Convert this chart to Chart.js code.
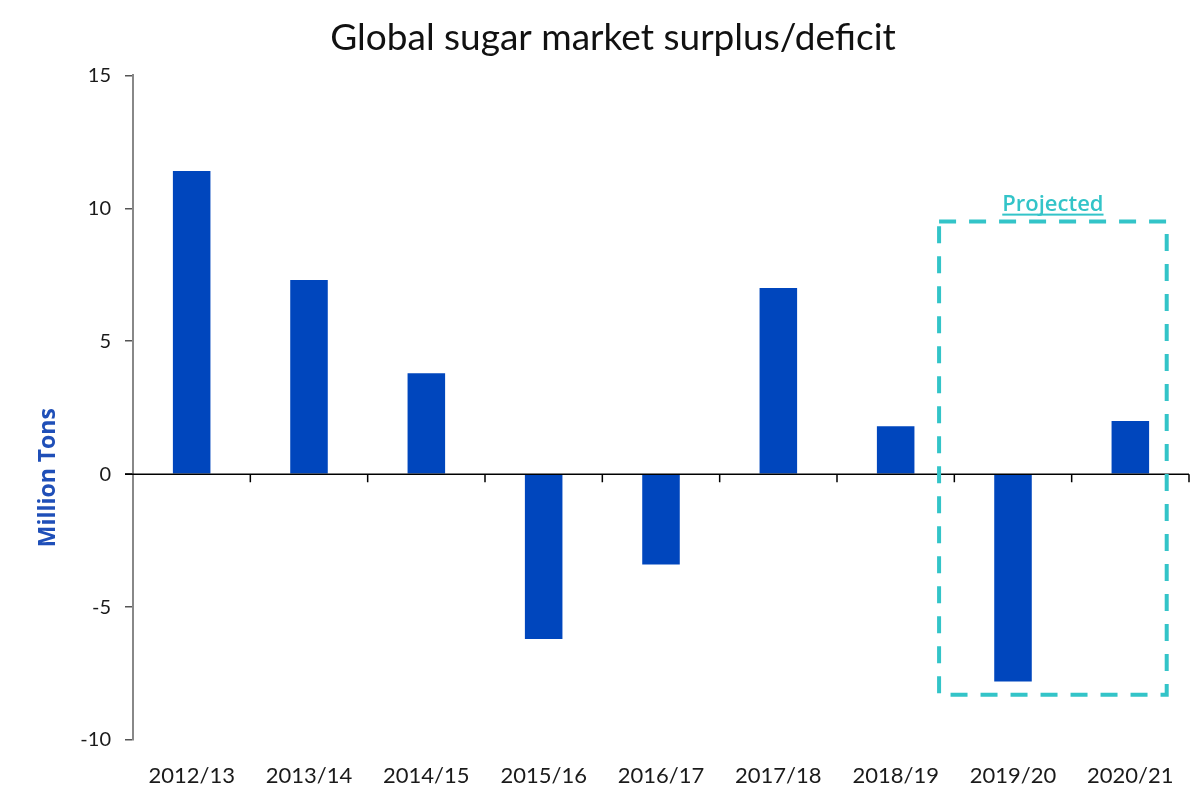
<!DOCTYPE html>
<html>
<head>
<meta charset="utf-8">
<script src="https://cdn.jsdelivr.net/npm/chart.js@4"></script>
<style>
  html, body { margin: 0; padding: 0; background: #fff; }
  #wrap { width: 1200px; height: 812px; }
</style>
</head>
<body>
<div id="wrap"><canvas id="sugarChart"></canvas></div>
<script>
// Global sugar surplus/deficit, million tons
const seasons = ["2012/13", "2013/14", "2014/15", "2015/16", "2016/17", "2017/18", "2018/19", "2019/20", "2020/21"];
const balance = [11.4, 7.3, 3.8, -6.2, -3.4, 7.0, 1.8, -7.8, 2.0];
const yTicks = [-10, -5, 0, 5, 10, 15];
const projectedFrom = "2019/20";

const barBlue = "#0046bd";
const teal = "#33c4c8";

// zero line with tick marks between categories, y title, and the dashed "Projected" box
const extras = {
  id: "extras",
  afterDatasetsDraw(chart) {
    const { ctx, chartArea, scales: { x, y } } = chart;
    const y0 = y.getPixelForValue(0);
    const half = (x.getPixelForValue(1) - x.getPixelForValue(0)) / 2;

    ctx.save();
    ctx.strokeStyle = "#000";
    ctx.lineWidth = 1.5;
    ctx.beginPath();
    ctx.moveTo(chartArea.left - 8, y0);
    ctx.lineTo(chartArea.right, y0);
    for (let i = 0; i < seasons.length; i++) {
      const bx = x.getPixelForValue(i) + half;
      ctx.moveTo(bx, y0);
      ctx.lineTo(bx, y0 + 8);
    }
    ctx.stroke();

    // y axis title, sits a bit below the middle like the original
    ctx.save();
    ctx.translate(48, (chartArea.top + chartArea.bottom) / 2 + 70);
    ctx.rotate(-Math.PI / 2);
    ctx.font = "bold 23px 'Open Sans'";
    ctx.fillStyle = "#1f4fb8";
    ctx.textAlign = "center";
    ctx.textBaseline = "middle";
    ctx.fillText("Million Tons", 0, 0);
    ctx.restore();

    // projected box
    const i0 = seasons.indexOf(projectedFrom);
    const left = x.getPixelForValue(i0) - half * 1.26;
    const right = x.getPixelForValue(seasons.length - 1) + half * 0.62;
    const top = y.getPixelForValue(9.5);
    const bottom = y.getPixelForValue(-8.3);
    ctx.strokeStyle = teal;
    ctx.lineWidth = 4;
    ctx.setLineDash([17, 13]);
    ctx.strokeRect(left, top, right - left, bottom - top);
    ctx.setLineDash([]);

    ctx.font = "600 22px 'Open Sans'";
    ctx.fillStyle = teal;
    ctx.textAlign = "center";
    ctx.textBaseline = "alphabetic";
    const cx = (left + right) / 2;
    const ty = top - 11;
    ctx.fillText("Projected", cx, ty);
    const w = ctx.measureText("Projected").width;
    ctx.fillRect(cx - w / 2, ty + 3, w, 2);
    ctx.restore();
  }
};

new Chart(document.getElementById("sugarChart"), {
  type: "bar",
  data: {
    labels: seasons,
    datasets: [{
      label: "Surplus/deficit",
      data: balance,
      backgroundColor: barBlue,
      barPercentage: 0.64,
      categoryPercentage: 0.5
    }]
  },
  options: {
    responsive: true,
    maintainAspectRatio: false,
    animation: false,
    layout: { padding: { left: 37, right: 11, top: 0, bottom: 0 } },
    plugins: {
      legend: { display: false },
      tooltip: { enabled: false },
      title: {
        display: true,
        text: "Global sugar market surplus/deficit",
        color: "#111",
        font: { family: "Lato", size: 37, weight: "normal" },
        padding: { top: 16, bottom: 15 }
      }
    },
    scales: {
      x: {
        grid: { display: false, drawTicks: false },
        border: { display: false },
        ticks: {
          color: "#1a1a1a",
          font: { family: "Lato", size: 22 },
          padding: 23,
          maxRotation: 0
        },
        afterFit(s) { s.height = 72; }
      },
      y: {
        min: -10,
        max: 15,
        afterBuildTicks(s) { s.ticks = yTicks.map(v => ({ value: v })); },
        grid: { drawOnChartArea: false, drawTicks: true, tickLength: 8, color: "#555", lineWidth: 1.5 },
        border: { display: true, color: "#888", width: 2 },
        ticks: {
          color: "#1a1a1a",
          font: { family: "Lato", size: 20 },
          padding: 14
        },
        afterFit(s) { s.width = 96; }
      }
    }
  },
  plugins: [extras]
});
</script>
</body>
</html>
